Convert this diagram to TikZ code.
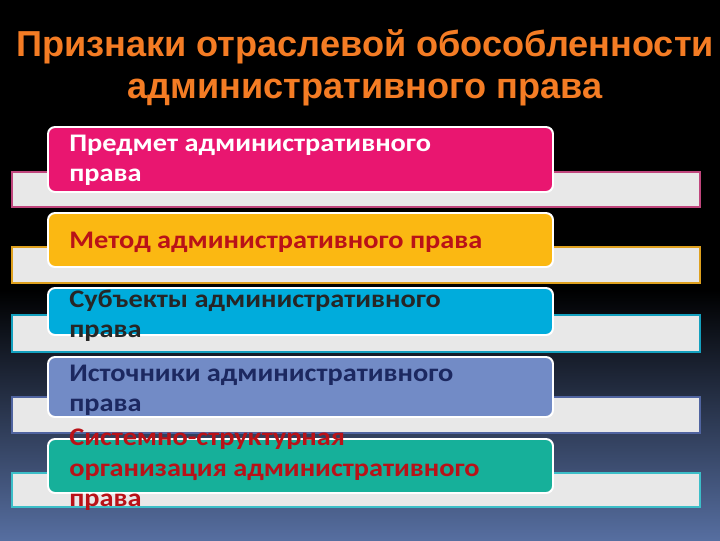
\documentclass[tikz,border=0pt]{standalone}
\usepackage{fontspec}
\setmainfont{Liberation Sans}
\newfontfamily\boxfont{Carlito}[FakeStretch=1.12]
\usetikzlibrary{positioning}

\definecolor{titleorange}{RGB}{244,124,36}
\definecolor{stripgray}{RGB}{232,232,232}
\definecolor{pinkbox}{RGB}{233,22,112}
\definecolor{pinkedge}{RGB}{192,70,125}
\definecolor{yellowbox}{RGB}{251,184,18}
\definecolor{yellowedge}{RGB}{222,160,30}
\definecolor{bluebox}{RGB}{0,172,220}
\definecolor{blueedge}{RGB}{20,160,190}
\definecolor{violetbox}{RGB}{114,139,198}
\definecolor{violetedge}{RGB}{80,100,160}
\definecolor{tealbox}{RGB}{22,176,154}
\definecolor{tealedge}{RGB}{60,190,200}
\definecolor{darkred}{RGB}{185,18,24}
\definecolor{navytext}{RGB}{28,40,96}
\definecolor{bgmiddle}{RGB}{26,33,52}
\definecolor{bgbottom}{RGB}{86,110,160}

\begin{document}
\begin{tikzpicture}[x=0.025cm, y=-0.025cm,
    strip/.style={fill=stripgray, line width=1.4pt},
    card/.style={rounded corners=5pt, draw=white, line width=1.4pt},
    item/.style={anchor=north west, align=left, inner sep=0pt,
      font=\boxfont\bfseries\fontsize{18}{21.5}\selectfont},
    heading/.style={align=center, inner sep=0pt, text=titleorange,
      font=\bfseries\fontsize{25.7}{29.5}\selectfont}]
    \fill[black] (0,0) rectangle (720,290);
    \shade[top color=black, middle color=bgmiddle, bottom color=bgbottom]
      (0,290) rectangle (720,540);
    \node[heading] (title) at (365,68) {Признаки отраслевой обособленности\\административного права};

    \draw[strip, draw=pinkedge] (12,172) rectangle (700,207);
    \draw[strip, draw=yellowedge] (12,247) rectangle (700,283);
    \draw[strip, draw=blueedge] (12,315) rectangle (700,352);
    \draw[strip, draw=violetedge] (12,397) rectangle (700,433);
    \draw[strip, draw=tealedge] (12,473) rectangle (700,507);

    \draw[card, fill=pinkbox] (48,127) rectangle (553,192);
    \draw[card, fill=yellowbox] (48,213) rectangle (553,267);
    \draw[card, fill=bluebox] (48,288) rectangle (553,335);
    \draw[card, fill=violetbox] (48,357) rectangle (553,417);
    \draw[card, fill=tealbox] (48,439) rectangle (553,493);

    \node[item, text=white] (predmet) at (69,135) {Предмет административного\\права};
    \node[item, text=darkred] (metod) at (69,232) {Метод административного права};
    \node[item, text=black!85] (subjects) at (69,290) {Субъекты административного\\права};
    \node[item, text=navytext] (sources) at (69,365) {Источники административного\\права};
    \node[item, text=darkred] (system) at (69,429) {Системно-структурная\\организация административного\\права};
\end{tikzpicture}
\end{document}
